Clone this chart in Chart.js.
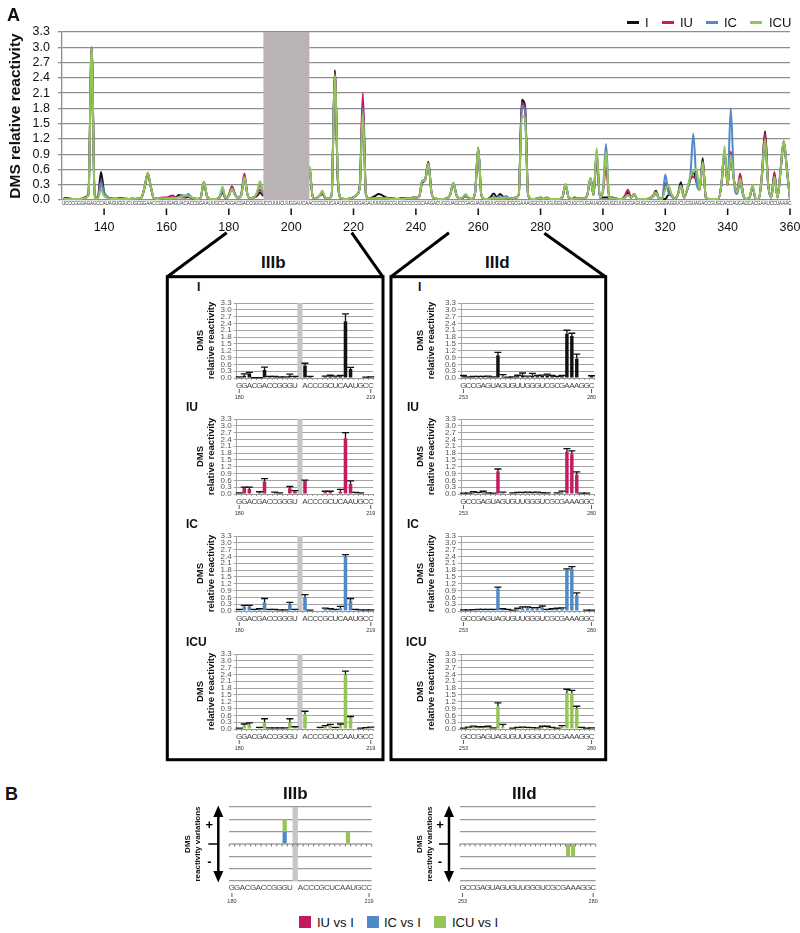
<!DOCTYPE html>
<html><head><meta charset="utf-8">
<script src="https://cdn.jsdelivr.net/npm/chart.js@4"></script>
<style>
body{margin:0;background:#fff;width:800px;height:933px;position:relative;overflow:hidden;font-family:'Liberation Sans',Arial,Helvetica,sans-serif;color:#111;}
.t{position:absolute;white-space:nowrap;line-height:1;}
.b{font-weight:bold;}
</style></head><body>
<script>
// ---------------- DATA ----------------
// Panel A: nucleotide positions 127..360
const POS_START = 127;
const POS_END = 360;
const X_TICKS_STEP = 20;
const GAP_A = [192, 205];   // positions hidden by the grey band
const SEQ_A =
 'UCCC' +
 'GGGAGAGCCA' + 'UAGUGGUCUG' + 'CGGAACCGGU' + 'GAGUACACCG' + 'GAAUUGCCAG' +
 'GACGACCGGG' + 'UCCUUUCUUG' + 'GAUCAACCCG' + 'CUCAAUGCCU' + 'GGAGAUUUGG' +
 'GCGUGCCCCC' + 'GCAAGACUGC' + 'UAGCCGAGUA' + 'GUGUUGGGUC' + 'GCGAAAGGCC' +
 'UUGUGGUACU' + 'GCCUGAUAGG' + 'GUGCUUGCGA' + 'GUGCCCCGGG' + 'AGGUCUCGUA' +
 'GACCGUGCAC' + 'CAUGAGCACG' + 'AAUCCUAAAC';
const _ = null;
const SERIES_I = [
 .03,.04,.02,.02,
 .02,.02,.02,.05,.12,3.0,.05,.05,.55,.15,
 .06,.03,.02,.02,.03,.03,.02,.02,.03,.02,
 .03,.05,.25,.52,.25,.03,.02,.02,.03,.04,
 .04,.05,.05,.10,.08,.05,.06,.04,.03,.02,
 .05,.35,.07,.02,.02,.02,.05,.15,.03,.08,
 .24,.10,.04,.10,.45,.10,.03,.05,.08,.14,
 .08,_,_,_,_,_,_,_,_,_,
 _,_,_,_,_,.60,.05,.03,.08,.12,
 .04,.03,.10,2.55,.35,.03,.02,.02,.03,.05,
 .10,.25,1.85,.10,.03,.05,.08,.12,.10,.06,
 .04,.03,.03,.02,.03,.04,.03,.03,.05,.05,
 .06,.33,.40,.75,.15,.03,.02,.02,.02,.03,
 .10,.33,.10,.02,.04,.08,.03,.02,.15,1.02,
 .10,.02,.02,.06,.13,.05,.12,.06,.05,.03,
 .03,.05,.10,1.97,1.85,.10,.02,.02,.03,.05,
 .02,.05,.02,.02,.02,.02,.05,.30,.05,.02,
 .05,.03,.03,.03,.10,.42,.10,.90,.05,.05,
 .05,.05,.05,.03,.02,.02,.05,.15,.05,.12,
 .02,.02,.02,.02,.03,.08,.18,.03,.02,.02,
 .10,.10,.02,.10,.35,.05,.20,.40,.55,.35,
 .20,.82,.05,.02,.02,.02,.02,.30,.95,.30,
 .90,.40,.15,.45,.10,.02,.05,.25,.02,.02,
 .50,1.35,.30,.05,.50,.05,.60,1.15,.60,.02];
const SERIES_IU = [
 .02,.03,.03,.02,
 .02,.02,.03,.06,.13,3.0,.05,.04,.38,.10,
 .05,.03,.03,.03,.04,.03,.03,.02,.02,.02,
 .03,.05,.25,.52,.25,.03,.03,.04,.05,.05,
 .07,.09,.05,.06,.05,.06,.08,.04,.03,.02,
 .05,.36,.08,.02,.02,.02,.06,.21,.04,.10,
 .27,.12,.04,.12,.52,.10,.03,.05,.10,.20,
 .10,_,_,_,_,_,_,_,_,_,
 _,_,_,_,_,.60,.05,.03,.08,.12,
 .04,.03,.10,2.50,.38,.03,.02,.02,.03,.06,
 .10,.28,2.10,.10,.03,.03,.03,.04,.04,.03,
 .03,.03,.02,.02,.03,.03,.03,.03,.04,.05,
 .06,.35,.40,.72,.15,.03,.02,.02,.02,.03,
 .10,.33,.10,.02,.04,.08,.03,.02,.15,1.02,
 .10,.02,.02,.03,.05,.04,.05,.05,.04,.03,
 .03,.05,.10,1.90,1.80,.10,.02,.02,.03,.04,
 .02,.04,.02,.02,.02,.02,.05,.30,.05,.02,
 .03,.03,.03,.03,.10,.42,.10,.90,.05,.15,
 .65,.05,.03,.03,.02,.02,.08,.20,.05,.12,
 .02,.02,.02,.02,.03,.08,.15,.03,.02,.33,
 .20,.10,.02,.10,.28,.05,.20,.42,.45,.40,
 .20,.75,.05,.02,.02,.02,.02,.30,.95,.30,
 .95,.40,.15,.52,.10,.02,.05,.25,.02,.02,
 .50,1.30,.30,.05,.55,.05,.60,1.15,.60,.02];
const SERIES_IC = [
 .02,.02,.02,.02,
 .02,.02,.02,.05,.10,3.0,.04,.04,.35,.15,
 .06,.02,.02,.02,.02,.02,.02,.02,.02,.02,
 .03,.05,.26,.53,.26,.03,.02,.02,.03,.03,
 .04,.05,.04,.06,.10,.07,.12,.06,.03,.02,
 .05,.35,.07,.02,.02,.02,.05,.18,.03,.08,
 .22,.10,.04,.10,.42,.10,.03,.05,.12,.30,
 .12,_,_,_,_,_,_,_,_,_,
 _,_,_,_,_,.62,.05,.03,.08,.15,
 .04,.03,.10,2.45,.40,.03,.02,.02,.03,.05,
 .10,.25,1.80,.10,.03,.03,.03,.03,.04,.03,
 .03,.02,.02,.02,.02,.03,.03,.03,.04,.05,
 .06,.38,.40,.70,.15,.03,.02,.02,.02,.03,
 .10,.34,.10,.02,.05,.09,.03,.02,.15,1.02,
 .10,.02,.02,.03,.06,.04,.08,.05,.08,.03,
 .03,.05,.10,1.85,1.75,.10,.02,.02,.03,.04,
 .02,.04,.02,.02,.02,.02,.05,.31,.05,.02,
 .03,.03,.03,.03,.10,.42,.10,.95,.05,.20,
 1.10,.05,.03,.03,.02,.02,.05,.10,.05,.12,
 .02,.02,.02,.02,.03,.06,.12,.03,.02,.50,
 .15,.08,.02,.10,.28,.05,.20,.45,1.30,.35,
 .20,.70,.05,.02,.02,.02,.02,.30,.92,.35,
 1.80,.40,.12,.32,.08,.02,.05,.25,.02,.02,
 .45,1.10,.30,.05,.45,.05,.60,1.15,.60,.02];
const SERIES_ICU = [
 .02,.02,.01,.02,
 .02,.02,.02,.04,.10,3.0,.03,.03,.20,.08,
 .04,.02,.02,.02,.02,.02,.02,.02,.03,.03,
 .03,.05,.26,.54,.26,.03,.02,.03,.03,.03,
 .03,.04,.04,.05,.06,.10,.08,.05,.03,.02,
 .05,.36,.08,.02,.02,.02,.06,.26,.04,.07,
 .22,.10,.04,.10,.45,.10,.03,.05,.15,.37,
 .15,_,_,_,_,_,_,_,_,_,
 _,_,_,_,_,.66,.05,.03,.08,.18,
 .04,.03,.10,2.45,.45,.03,.02,.02,.03,.05,
 .10,.25,1.70,.10,.03,.03,.03,.03,.03,.03,
 .03,.02,.02,.02,.02,.02,.03,.03,.04,.05,
 .06,.36,.40,.72,.15,.03,.02,.02,.02,.03,
 .10,.34,.10,.02,.05,.12,.03,.02,.15,1.03,
 .10,.02,.02,.03,.04,.04,.05,.04,.05,.03,
 .03,.05,.10,1.65,1.60,.10,.02,.02,.03,.04,
 .02,.04,.02,.02,.02,.02,.05,.32,.05,.02,
 .03,.03,.03,.03,.10,.43,.10,1.02,.05,.15,
 .95,.05,.03,.03,.02,.02,.04,.10,.05,.12,
 .02,.02,.02,.02,.03,.08,.15,.03,.02,.20,
 .28,.12,.02,.10,.28,.05,.22,.46,.55,.62,
 .20,.75,.05,.02,.02,.02,.02,.30,1.05,.30,
 .88,.40,.15,.42,.10,.02,.05,.30,.02,.02,
 .50,1.20,.30,.05,.45,.05,.60,1.17,.60,.02];
const SERIES_NAMES = ['I', 'IU', 'IC', 'ICU'];

// Panels IIIb (180-219, gap shown as one grey column) and IIId (253-280)
const IIIB_LABELS = ['G','G','A','C','G','A','C','C','G','G','G','U','','A','C','C','C','G','C','U','C','A','A','U','G','C','C'];
const IIIB_GAP_INDEX = 12;
const IIIB_ENDS = ['180', '219'];
const IIID_LABELS = ['G','C','C','G','A','G','U','A','G','U','G','U','U','G','G','G','U','C','G','C','G','A','A','A','G','G','C'];
const IIID_ENDS = ['253', '280'];

const IIIB_I   = [.03,.10,.20,0,0,.35,.05,.05,.03,.03,.10,.05,_,.55,.05,0,0,.05,.08,.05,.08,2.50,.40,0,0,.02,.03];
const IIIB_I_ERR   = [.02,.08,.05,.02,.02,.13,.02,.02,.02,.02,.07,.02,_,.10,.02,0,0,.03,.04,.03,.03,.32,.07,0,0,.02,.02];
const IIIB_IU  = [.03,.26,.22,0,.05,.55,0,.03,.03,0,.25,.12,_,.58,0,0,0,.08,.08,0,.10,2.45,.45,.03,.03,0,0];
const IIIB_IU_ERR  = [.02,.04,.08,0,.05,.13,0,.05,.02,0,.08,.03,_,.03,0,0,0,.04,.04,0,.10,.25,.13,.04,.02,0,0];
const IIIB_IC  = [.05,.20,.20,.05,.08,.38,.05,.05,.03,.03,.28,.05,_,.60,.02,0,0,.10,.08,.05,.12,2.40,.45,.05,.03,.03,.03];
const IIIB_IC_ERR  = [.02,.05,.05,.02,.02,.17,.02,.02,.02,.02,.10,.02,_,.12,.02,0,0,.03,.02,.02,.08,.08,.10,.02,.02,.02,.02];
const IIIB_ICU = [.02,.17,.20,0,.05,.30,.03,.03,.03,.03,.30,.08,_,.65,0,0,.05,.10,.15,.05,.15,2.40,.50,0,.02,.04,.06];
const IIIB_ICU_ERR = [.02,.05,.07,0,.02,.15,.02,.02,.02,.02,.15,.02,_,.13,0,0,.02,.05,.05,.02,.07,.15,.05,0,.02,.02,.02];

const IIID_I   = [.08,.03,.05,.05,.05,.06,.03,1.0,.05,.02,.03,.08,.12,.05,.10,.08,.10,.12,.08,.05,.08,1.95,1.85,.85,0,0,.08];
const IIID_I_ERR   = [.03,.02,.02,.02,.02,.02,.02,.13,.10,.02,.02,.04,.10,.03,.10,.03,.03,.05,.03,.02,.03,.15,.12,.20,0,0,.02];
const IIID_IU  = [.02,.02,.05,.05,.05,.03,.02,1.0,.05,0,.03,.04,.04,.05,.05,.05,.04,.03,0,.03,.05,1.85,1.75,.85,.02,.02,0];
const IIID_IU_ERR  = [.02,.02,.05,.02,.07,.02,.02,.10,.03,0,.02,.03,.03,.03,.02,.03,.02,.02,0,.02,.08,.15,.15,.12,.02,.02,0];
const IIID_IC  = [.03,.03,.04,.05,.05,.05,.05,1.0,.08,.05,.02,.08,.10,.12,.10,.10,.15,.05,.08,.10,.12,1.82,1.85,.70,0,.02,.02];
const IIID_IC_ERR  = [.02,.02,.02,.02,.02,.02,.02,.05,.02,.02,.02,.04,.08,.06,.05,.05,.07,.02,.02,.02,.02,.03,.10,.10,0,.02,.02];
const IIID_ICU = [.02,.05,.10,.08,.05,.10,.03,1.0,.10,0,.02,.05,.06,.05,.04,.03,.07,.07,.05,.02,.10,1.60,1.60,.90,.05,.02,.03];
const IIID_ICU_ERR = [.02,.03,.03,.02,.05,.02,.02,.15,.10,0,.02,.02,.02,.02,.02,.02,.05,.05,.02,.02,.05,.15,.10,.10,.02,.02,.02];

// Panel B: reactivity variations (stacked)
const VAR_NAMES = ['IU vs I', 'IC vs I', 'ICU vs I'];
const IIIB_VAR_IU  = [_,_,_,_,_,_,_,_,_,_,_,_,_,_,_,_,_,_,_,_,_,_,_,_,_,_,_];
const IIIB_VAR_IC  = [_,_,_,_,_,_,_,_,_,_,1,_,_,_,_,_,_,_,_,_,_,_,_,_,_,_,_];
const IIIB_VAR_ICU = [_,_,_,_,_,_,_,_,_,_,1,_,_,_,_,_,_,_,_,_,_,_,1,_,_,_,_];
const IIID_VAR_IU  = [_,_,_,_,_,_,_,_,_,_,_,_,_,_,_,_,_,_,_,_,_,_,_,_,_,_,_];
const IIID_VAR_IC  = [_,_,_,_,_,_,_,_,_,_,_,_,_,_,_,_,_,_,_,_,_,_,_,_,_,_,_];
const IIID_VAR_ICU = [_,_,_,_,_,_,_,_,_,_,_,_,_,_,_,_,_,_,_,_,_,-1,-1,_,_,_,_];

// ---------------- STYLE ----------------
const FONT = "'Liberation Sans', Arial, Helvetica, sans-serif";
const COLORS = {I: '#111111', IU: '#c41a60', IC: '#4f89c7', ICU: '#95c457'};
const GRID = '#8e8e8e';
Chart.defaults.font.family = FONT;
Chart.defaults.animation = false;
Chart.defaults.responsive = false;
Chart.defaults.plugins.legend.display = false;
Chart.defaults.plugins.tooltip.enabled = false;

function mkCanvas(left, top, w, h) {
  const c = document.createElement('canvas');
  c.width = w; c.height = h;
  c.style.cssText = `position:absolute;left:${left}px;top:${top}px;width:${w}px;height:${h}px`;
  document.body.appendChild(c);
  return c;
}
function txt(s, left, cy, size, bold, extra) {
  const d = document.createElement('div');
  d.className = 't' + (bold ? ' b' : '');
  d.textContent = s;
  d.style.cssText += `left:${left}px;top:${cy - size / 2}px;font-size:${size}px;` + (extra || '');
  document.body.appendChild(d);
  return d;
}

// ---------------- PANEL A ----------------
const positions = Array.from({length: POS_END - POS_START + 1}, (_, i) => POS_START + i);
const seriesData = {I: SERIES_I, IU: SERIES_IU, IC: SERIES_IC, ICU: SERIES_ICU};

const topExtras = {
  id: 'topExtras',
  afterDatasetsDraw(chart) {
    const {ctx, chartArea: a, scales: {x}} = chart;
    const x0 = x.getPixelForValue(GAP_A[0] - 0.9), x1 = x.getPixelForValue(GAP_A[1] + 0.85);
    ctx.save();
    ctx.fillStyle = '#b9b3b5';
    ctx.fillRect(x0, a.top, x1 - x0, a.bottom - a.top);
    ctx.restore();
  },
  afterDraw(chart) {
    const {ctx, chartArea: a, scales: {x}} = chart;
    ctx.save();
    ctx.font = `4.6px ${FONT}`;
    ctx.fillStyle = '#333';
    ctx.textAlign = 'center';
    ctx.textBaseline = 'middle';
    SEQ_A.split('').forEach((ch, i) => ctx.fillText(ch, x.getPixelForValue(POS_START + i), a.bottom + 4));
    ctx.strokeStyle = '#111';
    ctx.lineWidth = 1.5;
    x.ticks.forEach(t => {
      const px = x.getPixelForValue(t.value);
      ctx.beginPath(); ctx.moveTo(px, a.bottom + 8.5); ctx.lineTo(px, a.bottom + 15); ctx.stroke();
    });
    ctx.restore();
  }
};

new Chart(mkCanvas(0, 0, 800, 240), {
  type: 'line',
  data: {
    datasets: SERIES_NAMES.map((n, k) => ({
      label: n,
      data: positions.map((p, i) => ({x: p, y: seriesData[n][i]})),
      borderColor: COLORS[n],
      borderWidth: 2,
      pointRadius: 0,
      cubicInterpolationMode: 'monotone',
      order: SERIES_NAMES.length - 1 - k
    }))
  },
  options: {
    layout: {padding: {left: 0, right: 10, top: 32, bottom: 0}},
    scales: {
      x: {
        type: 'linear', min: POS_START - 0.5, max: POS_END,
        grid: {display: false}, border: {display: false},
        ticks: {stepSize: X_TICKS_STEP, includeBounds: false, padding: 12, font: {size: 12.5}, color: '#111', maxRotation: 0},
        afterFit(s) { s.height = 40; s.paddingRight = 0; s.paddingLeft = 0; }
      },
      y: {
        min: 0, max: 3.3,
        ticks: {stepSize: 0.3, autoSkip: false, callback: v => (+v).toFixed(1), font: {size: 12.5}, color: '#111', padding: 8},
        grid: {color: GRID, lineWidth: 1.3, tickLength: 4, tickColor: GRID},
        border: {color: GRID, width: 1.3},
        title: {display: true, text: 'DMS relative reactivity', font: {size: 15.5, weight: 'bold'}, color: '#111', padding: {top: 6, bottom: 0}},
        afterFit(s) { s.width = 62; }
      }
    }
  },
  plugins: [topExtras]
});

// ---------------- small bar panels ----------------
function panelPlugin(cfg) {
  return {
    id: 'panelExtras',
    beforeDatasetsDraw(chart) {
      if (cfg.gap == null) return;
      const {ctx, chartArea: a, scales: {x}} = chart;
      const w = x.getPixelForValue(1) - x.getPixelForValue(0);
      const cx = x.getPixelForValue(cfg.gap);
      ctx.save(); ctx.fillStyle = '#c6c6c6';
      ctx.fillRect(cx - w / 2, a.top, w, a.bottom - a.top);
      ctx.restore();
    },
    afterDatasetsDraw(chart) {
      const {ctx, chartArea: a, scales: {x, y}} = chart;
      ctx.save();
      if (cfg.errors) {
        ctx.strokeStyle = '#111'; ctx.lineWidth = 1.3;
        cfg.errors.forEach((e, i) => {
          const v = cfg.values[i];
          if (v == null || e == null || e <= 0) return;
          const px = x.getPixelForValue(i), y0 = y.getPixelForValue(v), y1 = y.getPixelForValue(v + e);
          ctx.beginPath();
          ctx.moveTo(px, y0); ctx.lineTo(px, y1);
          ctx.moveTo(px - 3.5, y1); ctx.lineTo(px + 3.5, y1);
          ctx.stroke();
        });
      }
      if (cfg.variation) {
        // zero line with small category ticks
        const y0 = y.getPixelForValue(0);
        const w = x.getPixelForValue(1) - x.getPixelForValue(0);
        ctx.strokeStyle = '#777'; ctx.lineWidth = 1;
        ctx.beginPath(); ctx.moveTo(a.left, y0); ctx.lineTo(a.right, y0); ctx.stroke();
        for (let i = 0; i <= cfg.n; i++) {
          const px = a.left + i * w;
          ctx.beginPath(); ctx.moveTo(px, y0); ctx.lineTo(px, y0 + 2.5); ctx.stroke();
        }
        // double arrow
        const ax = a.left - 11;
        ctx.strokeStyle = '#000'; ctx.fillStyle = '#000'; ctx.lineWidth = 2.5;
        ctx.beginPath(); ctx.moveTo(ax, a.top + 8); ctx.lineTo(ax, a.bottom - 8); ctx.stroke();
        ctx.beginPath(); ctx.moveTo(ax, a.top - 1.5); ctx.lineTo(ax - 5, a.top + 10); ctx.lineTo(ax + 5, a.top + 10); ctx.closePath(); ctx.fill();
        ctx.beginPath(); ctx.moveTo(ax, a.bottom + 1.5); ctx.lineTo(ax - 5, a.bottom - 10); ctx.lineTo(ax + 5, a.bottom - 10); ctx.closePath(); ctx.fill();
        ctx.lineWidth = 1.5;
        ctx.beginPath(); ctx.moveTo(ax - 10, y0); ctx.lineTo(ax, y0); ctx.stroke();
        ctx.font = `bold 13px ${FONT}`; ctx.textAlign = 'center'; ctx.textBaseline = 'middle';
        ctx.fillText('+', ax - 9, y.getPixelForValue(1.5));
        ctx.fillText('-', ax - 9, y.getPixelForValue(-1.5));
      }
      ctx.restore();
    },
    afterDraw(chart) {
      const {ctx, chartArea: a, scales: {x}} = chart;
      ctx.save();
      ctx.strokeStyle = '#333'; ctx.lineWidth = 0.8; ctx.fillStyle = '#333';
      ctx.font = `5.5px ${FONT}`; ctx.textAlign = 'center'; ctx.textBaseline = 'middle';
      [0, cfg.n - 1].forEach((idx, k) => {
        const px = x.getPixelForValue(idx);
        ctx.beginPath(); ctx.moveTo(px, a.bottom + cfg.tk); ctx.lineTo(px, a.bottom + cfg.tk + 4); ctx.stroke();
        ctx.fillText(cfg.ends[k], px, a.bottom + cfg.tk + 8);
      });
      ctx.restore();
    }
  };
}

function makePanel(p) {
  const H = 8 + 75 + 30;
  const c = mkCanvas(p.left, p.plotTop - 8, p.W, H);
  new Chart(c, {
    type: 'bar',
    data: {labels: p.labels, datasets: [{data: p.values, backgroundColor: p.color, barPercentage: 0.7, categoryPercentage: 1}]},
    options: {
      layout: {padding: {top: 8, right: p.W - (p.plotRight - p.left), left: 0, bottom: 0}},
      scales: {
        x: {
          grid: {display: true, drawOnChartArea: false, tickLength: 2, color: '#999'},
          border: {color: '#999'},
          ticks: {autoSkip: false, maxRotation: 0, minRotation: 0, font: {size: 8}, color: '#444', padding: 1},
          afterFit(s) { s.height = 30; }
        },
        y: {
          min: 0, max: 3.3,
          ticks: {stepSize: 0.3, autoSkip: false, callback: v => (+v).toFixed(1), font: {size: 8, lineHeight: 1}, color: '#555', padding: 2},
          grid: {color: '#a3a3a3', tickLength: 3},
          border: {color: '#a3a3a3'},
          title: {display: true, text: ['DMS', 'relative reactivity'], font: {size: 9.5, weight: 'bold', lineHeight: 1.25}, color: '#111', padding: {top: 14, bottom: 0}},
          afterFit(s) { s.width = p.yw; }
        }
      }
    },
    plugins: [panelPlugin({gap: p.gap, errors: p.errors, values: p.values, ends: p.ends, n: p.labels.length, tk: 11})]
  });
}

const PANEL_TOPS = [303, 419, 536, 654];
const IIIB_SETS = [[IIIB_I, IIIB_I_ERR, 'I'], [IIIB_IU, IIIB_IU_ERR, 'IU'], [IIIB_IC, IIIB_IC_ERR, 'IC'], [IIIB_ICU, IIIB_ICU_ERR, 'ICU']];
const IIID_SETS = [[IIID_I, IIID_I_ERR, 'I'], [IIID_IU, IIID_IU_ERR, 'IU'], [IIID_IC, IIID_IC_ERR, 'IC'], [IIID_ICU, IIID_ICU_ERR, 'ICU']];
IIIB_SETS.forEach(([v, e, n], k) => makePanel({left: 180, W: 204, plotRight: 373.3, yw: 56.7, plotTop: PANEL_TOPS[k], labels: IIIB_LABELS, values: v, errors: e, color: COLORS[n], gap: IIIB_GAP_INDEX, ends: IIIB_ENDS}));
IIID_SETS.forEach(([v, e, n], k) => makePanel({left: 400, W: 204, plotRight: 594, yw: 61, plotTop: PANEL_TOPS[k], labels: IIID_LABELS, values: v, errors: e, color: COLORS[n], gap: null, ends: IIID_ENDS}));

// ---------------- PANEL B ----------------
function makeVar(p) {
  const H = 10 + 74 + 30;
  const c = mkCanvas(p.left, p.plotTop - 10, p.W, H);
  const cols = [COLORS.IU, COLORS.IC, COLORS.ICU];
  new Chart(c, {
    type: 'bar',
    data: {labels: p.labels, datasets: p.sets.map((d, k) => ({label: VAR_NAMES[k], data: d, backgroundColor: cols[k], barPercentage: 0.8, categoryPercentage: 1}))},
    options: {
      layout: {padding: {top: 10, right: p.W - (p.plotRight - p.left), left: 0, bottom: 0}},
      scales: {
        x: {
          stacked: true,
          grid: {display: false, drawTicks: false}, border: {display: false},
          ticks: {autoSkip: false, maxRotation: 0, minRotation: 0, font: {size: 8}, color: '#444', padding: 2},
          afterFit(s) { s.height = 30; }
        },
        y: {
          stacked: true, min: -3, max: 3,
          ticks: {stepSize: 1, display: false},
          grid: {color: ctx => ctx.tick && ctx.tick.value === 0 ? 'rgba(0,0,0,0)' : '#999', lineWidth: 1.3, drawTicks: false},
          border: {display: false},
          title: {display: true, text: ['DMS', 'reactivity variations'], font: {size: 8, weight: 'bold', lineHeight: 1.25}, color: '#111', padding: {top: 8, bottom: 0}},
          afterFit(s) { s.width = p.yw; }
        }
      }
    },
    plugins: [panelPlugin({gap: p.gap, variation: true, ends: p.ends, n: p.labels.length, tk: 12})]
  });
}
makeVar({left: 175, W: 207, plotRight: 371.7, yw: 54.3, plotTop: 807, labels: IIIB_LABELS, sets: [IIIB_VAR_IU, IIIB_VAR_IC, IIIB_VAR_ICU], gap: IIIB_GAP_INDEX, ends: IIIB_ENDS});
makeVar({left: 407, W: 199, plotRight: 595.7, yw: 53, plotTop: 807, labels: IIID_LABELS, sets: [IIID_VAR_IU, IIID_VAR_IC, IIID_VAR_ICU], gap: null, ends: IIID_ENDS});

// ---------------- decorations (text, legends, frames) ----------------
txt('A', 7, 15, 18, true);
txt('B', 5, 794, 18, true);
// top legend
[['I', 627, 645], ['IU', 662, 680], ['IC', 706, 724], ['ICU', 750, 769]].forEach(([n, sx, tx]) => {
  const s = document.createElement('div');
  s.style.cssText = `position:absolute;left:${sx}px;top:21px;width:12px;height:3px;background:${COLORS[n]}`;
  document.body.appendChild(s);
  txt(n, tx, 22.5, 13, false);
});
// section titles
txt('IIIb', 261, 262, 17, true);
txt('IIId', 485, 262, 17, true);
txt('IIIb', 283, 793, 17, true);
txt('IIId', 512, 793, 17, true);
// sub-panel labels
[['I', 197, 287], ['IU', 186, 407], ['IC', 186, 524], ['ICU', 186, 642]].forEach(([s, x, y]) => txt(s, x, y, 12, true));
[['I', 418, 287], ['IU', 407, 407], ['IC', 407, 524], ['ICU', 406, 642]].forEach(([s, x, y]) => txt(s, x, y, 12, true));
// bottom legend
[['IU', 299, 317, 0], ['IC', 367, 384, 1], ['ICU', 434, 452, 2]].forEach(([n, sx, tx, k]) => {
  const s = document.createElement('div');
  s.style.cssText = `position:absolute;left:${sx}px;top:916px;width:12px;height:12px;background:${COLORS[n]}`;
  document.body.appendChild(s);
  txt(VAR_NAMES[k], tx, 922.5, 13, false);
});
// frames and connector lines
const svgNS = 'http://www.w3.org/2000/svg';
const svg = document.createElementNS(svgNS, 'svg');
svg.setAttribute('width', 800); svg.setAttribute('height', 933);
svg.style.cssText = 'position:absolute;left:0;top:0;pointer-events:none';
svg.innerHTML = `<g stroke="#000" stroke-width="3" fill="none" stroke-linecap="butt">
 <line x1="226.7" y1="232.7" x2="167.3" y2="276.7"/>
 <line x1="351.7" y1="232.7" x2="382.7" y2="276.7"/>
 <line x1="449" y1="232.7" x2="391" y2="276.7"/>
 <line x1="544.3" y1="233.3" x2="605.5" y2="276.7"/>
 <rect x="167.3" y="276.7" width="215.7" height="483"/>
 <rect x="391" y="276.7" width="214.7" height="483"/>
</g>`;
document.body.appendChild(svg);
</script>
</body></html>
